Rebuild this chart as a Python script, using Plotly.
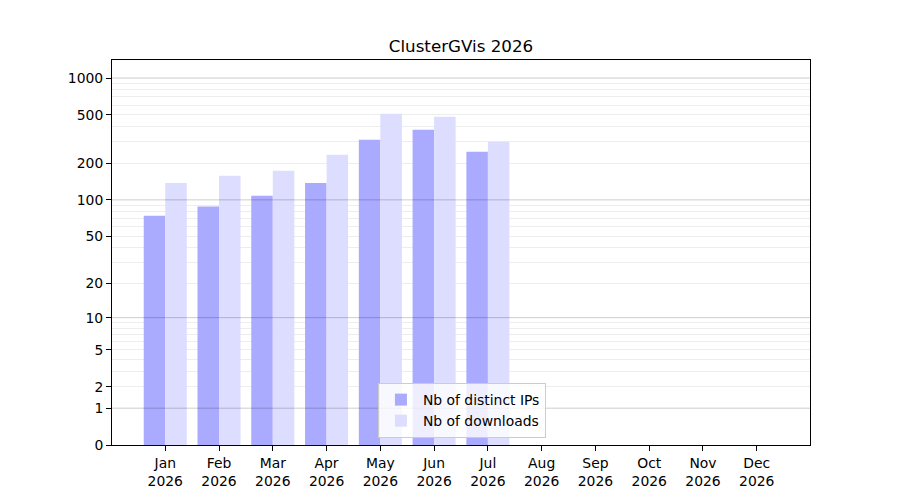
import numpy as np
import plotly.graph_objects as go

months = ["Jan", "Feb", "Mar", "Apr", "May", "Jun", "Jul", "Aug", "Sep", "Oct", "Nov", "Dec"]
year = "2026"
distinct_ips = [74, 88, 108, 138, 312, 377, 249, 0, 0, 0, 0, 0]
downloads = [138, 158, 174, 235, 510, 482, 301, 0, 0, 0, 0, 0]
y_ticks = [0, 1, 2, 5, 10, 20, 50, 100, 200, 500, 1000]
major_grid = [1, 10, 100, 1000]
minor_grid = [m * d for d in (1, 10, 100) for m in range(2, 10)]


def tr(v):
    # log10(1 + x) scale, like the original
    return np.log10(1 + np.asarray(v, dtype=float))


x = np.arange(len(months))
font = "DejaVu Sans"

fig = go.Figure()
fig.add_trace(
    go.Bar(
        x=x,
        y=tr(distinct_ips),
        width=0.4,
        offset=-0.4,
        marker=dict(color="#aaaaff", line=dict(width=0)),
        name="Nb of distinct IPs",
    )
)
fig.add_trace(
    go.Bar(
        x=x,
        y=tr(downloads),
        width=0.4,
        offset=0,
        marker=dict(color="#ddddff", line=dict(width=0)),
        name="Nb of downloads",
    )
)

for v in major_grid:
    fig.add_shape(
        type="line",
        xref="paper",
        x0=0,
        x1=1,
        yref="y",
        y0=float(tr(v)),
        y1=float(tr(v)),
        line=dict(color="rgba(0,0,0,0.2)", width=1),
        layer="above",
    )

# the page body adds 8px, so the margins are shifted back by that much
fig.update_layout(
    width=900,
    height=500,
    paper_bgcolor="white",
    plot_bgcolor="white",
    font=dict(family=font, size=13.9, color="black"),
    title=dict(
        text="ClusterGVis 2026",
        x=0.5033,
        xanchor="center",
        y=0.924,
        yanchor="middle",
        font=dict(family=font, size=16.7, color="black"),
    ),
    margin=dict(l=104, r=98, t=52, b=63),
    barmode="overlay",
    showlegend=True,
    legend=dict(
        x=0.381,
        y=0.018,
        xanchor="left",
        yanchor="bottom",
        bgcolor="rgba(255,255,255,0.8)",
        bordercolor="#cccccc",
        borderwidth=1,
        font=dict(family=font, size=13.9),
        tracegroupgap=0,
        itemwidth=34,
    ),
    xaxis=dict(
        range=[-0.99, 11.99],
        tickmode="array",
        tickvals=list(x),
        ticktext=[f"{m}<br>{year}" for m in months],
        ticks="outside",
        ticklen=5,
        tickcolor="black",
        showgrid=False,
        showline=True,
        linecolor="black",
        linewidth=1,
        mirror=True,
        zeroline=False,
    ),
    yaxis=dict(
        range=[0, 3.148],
        tickmode="array",
        tickvals=list(tr(y_ticks)),
        ticktext=[str(t) for t in y_ticks],
        ticks="outside",
        ticklen=5,
        tickcolor="black",
        showgrid=False,
        showline=True,
        linecolor="black",
        linewidth=1,
        mirror=True,
        zeroline=False,
        layer="above traces",
        minor=dict(
            tickmode="array",
            tickvals=list(tr(minor_grid)),
            showgrid=True,
            gridcolor="rgba(0,0,0,0.07)",
            gridwidth=1,
            ticks="",
        ),
    ),
)

fig.write_html("out.html")
